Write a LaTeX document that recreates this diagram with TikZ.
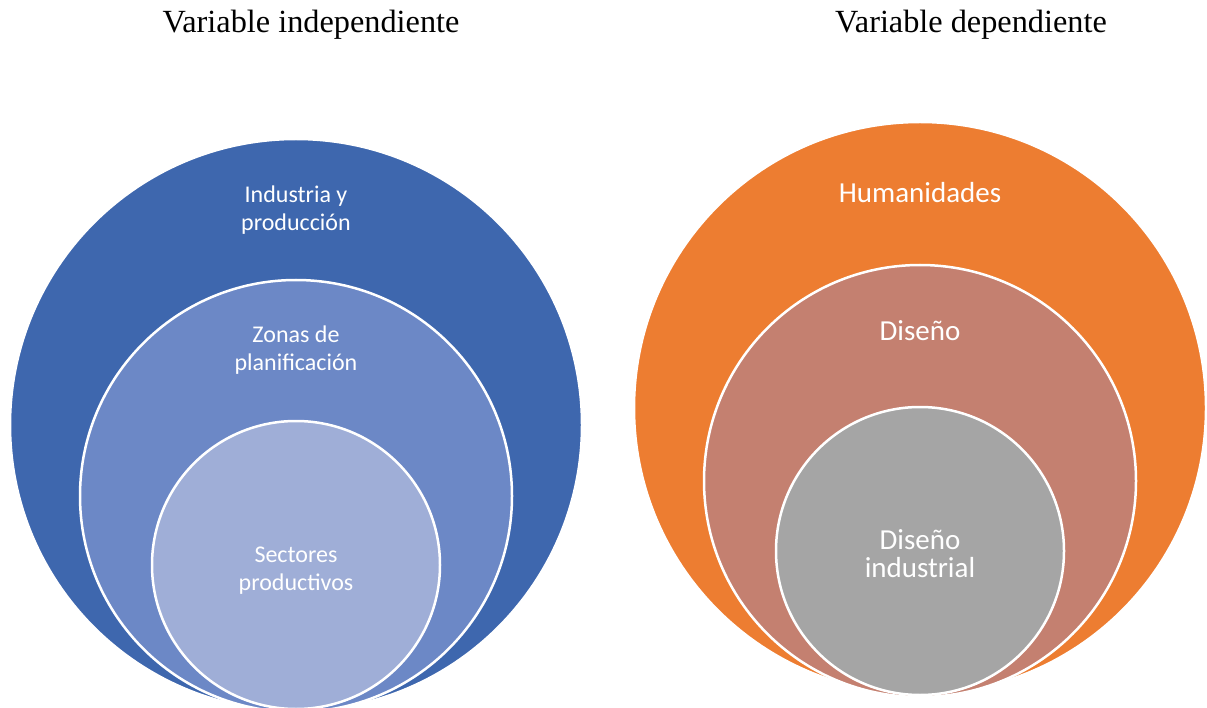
\documentclass[tikz,border=0pt]{standalone}
\usepackage{fontspec}
\setmainfont{Liberation Serif}
\newfontfamily\calfont{Carlito}
\definecolor{blueA}{HTML}{3E67AE}
\definecolor{blueB}{HTML}{6C88C6}
\definecolor{blueC}{HTML}{9FAED7}
\definecolor{orangeA}{HTML}{ED7D31}
\definecolor{orangeB}{HTML}{C48070}
\definecolor{greyC}{HTML}{A5A5A5}
\begin{document}
\begin{tikzpicture}[x=1pt,y=-1pt,
  ring/.style={circle, draw=white, line width=2.5pt, inner sep=0pt, minimum size=#1},
  title/.style={font=\fontsize{32.3}{38}\selectfont, text=black},
  lefttext/.style={font=\calfont\fontsize{24}{28}\selectfont, text=white, align=center},
  righttext/.style={font=\calfont\fontsize{29}{28}\selectfont, text=white, align=center}]
  \useasboundingbox (0,0) rectangle (1207,708);
  % titles
  \node[title] (tl) at (311,25) {Variable independiente};
  \node[title] (tr) at (971,25) {Variable dependiente};
  % left set of nested circles
  \node[ring=572pt, fill=blueA] (l1) at (296,425) {};
  \node[ring=432pt, fill=blueB] (l2) at (296,496) {};
  \node[ring=288pt, fill=blueC] (l3) at (296,565) {};
  \node[lefttext] (l1t) at (296,210) {Industria y\\producción};
  \node[lefttext] (l2t) at (296,350) {Zonas de\\planificación};
  \node[lefttext] (l3t) at (296,571) {Sectores\\productivos};
  % right set of nested circles
  \node[ring=572pt, fill=orangeA] (r1) at (920,408) {};
  \node[ring=432pt, fill=orangeB] (r2) at (920,481) {};
  \node[ring=288pt, fill=greyC] (r3) at (920,551) {};
  \node[righttext] (r1t) at (920,193) {Humanidades};
  \node[righttext] (r2t) at (920,331) {Diseño};
  \node[righttext] (r3t) at (920,554) {Diseño\\industrial};
\end{tikzpicture}
\end{document}
